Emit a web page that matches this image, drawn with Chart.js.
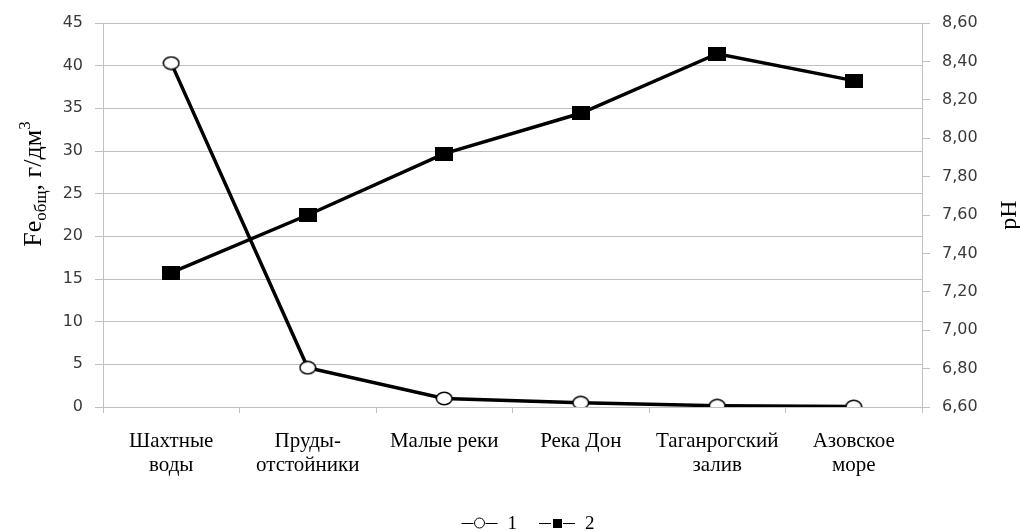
<!DOCTYPE html>
<html lang="ru">
<head>
<meta charset="utf-8">
<title>Fe общ и pH</title>
<script src="https://cdn.jsdelivr.net/npm/chart.js@4.4.1/dist/chart.umd.min.js"></script>
<style>
  html, body { margin: 0; padding: 0; background: #fff; }
  canvas { display: block; }
</style>
</head>
<body>
<canvas id="chart" width="1020" height="531"></canvas>
<script>
// categories (multi-line labels)
const categories = [
    ['Шахтные', 'воды'],
    ['Пруды-', 'отстойники'],
    ['Малые реки'],
    ['Река Дон'],
    ['Таганрогский', 'залив'],
    ['Азовское', 'море']
];
const seriesLabels = ['1', '2'];
// series 1: Fe общ, г/дм3 (left axis)
const feValues = [40.3, 4.6, 1.0, 0.5, 0.15, 0.05];
// series 2: pH (right axis)
const phValues = [7.30, 7.60, 7.92, 8.13, 8.44, 8.30];
// axis ranges: min, max, step
const feRange = [0, 45, 5];
const phRange = [6.6, 8.6, 0.2];
const feTitle = ['Fe', 'общ', ', г/дм', '3'];
const phTitle = 'pH';

const GRID = '#c0c0c0';
const TICK = '#3a3a3a';
const SERIF = '"Liberation Serif", "Times New Roman", serif';
const SANS = '"DejaVu Sans", Verdana, sans-serif';

function makeMarker(w, h, draw) {
    const c = document.createElement('canvas');
    c.width = w;
    c.height = h;
    draw(c.getContext('2d'), w, h);
    return c;
}

const circleMarker = makeMarker(18, 15, (g, w, h) => {
    g.beginPath();
    g.ellipse(w / 2, h / 2, w / 2 - 1.2, h / 2 - 1.2, 0, 0, Math.PI * 2);
    g.fillStyle = '#fff';
    g.fill();
    g.lineWidth = 1.5;
    g.strokeStyle = '#000';
    g.stroke();
});
const squareMarker = makeMarker(18, 14, (g, w, h) => {
    g.fillStyle = '#000';
    g.fillRect(0, 0, w, h);
});

// axis titles and the legend under the chart
const extras = {
    id: 'extras',
    afterDraw(chart) {
        const { ctx, chartArea: a } = chart;
        const midY = (a.top + a.bottom) / 2;

        // left title with subscript / superscript
        ctx.save();
        const big = '26px ' + SERIF, small = '17px ' + SERIF;
        const parts = [
            { t: feTitle[0], f: big, dy: 0 },
            { t: feTitle[1], f: small, dy: 5 },
            { t: feTitle[2], f: big, dy: 0 },
            { t: feTitle[3], f: small, dy: -11 }
        ];
        let total = 0;
        parts.forEach(p => { ctx.font = p.f; p.w = ctx.measureText(p.t).width; total += p.w; });
        ctx.translate(41, midY - 31);
        ctx.rotate(-Math.PI / 2);
        ctx.fillStyle = '#000';
        ctx.textBaseline = 'alphabetic';
        ctx.textAlign = 'left';
        let x = -total / 2;
        parts.forEach(p => { ctx.font = p.f; ctx.fillText(p.t, x, p.dy); x += p.w; });
        ctx.restore();

        // right title
        ctx.save();
        ctx.translate(1016, midY);
        ctx.rotate(-Math.PI / 2);
        ctx.font = '24px ' + SERIF;
        ctx.fillStyle = '#000';
        ctx.textAlign = 'center';
        ctx.textBaseline = 'alphabetic';
        ctx.fillText(phTitle, 0, 0);
        ctx.restore();

        // legend: –○– 1   –■– 2
        ctx.save();
        ctx.font = '19px ' + SERIF;
        const ly = 523;
        const itemW = chart.data.datasets.map(ds => 36 + 10 + ctx.measureText(ds.label).width);
        const gap = 22;
        let lx = 528 - (itemW.reduce((s, w) => s + w, 0) + gap * (itemW.length - 1)) / 2;
        chart.data.datasets.forEach((ds, i) => {
            ctx.strokeStyle = '#000';
            ctx.lineWidth = 1;
            ctx.beginPath();
            ctx.moveTo(lx, ly + 0.5);
            ctx.lineTo(lx + 12, ly + 0.5);
            ctx.moveTo(lx + 24, ly + 0.5);
            ctx.lineTo(lx + 36, ly + 0.5);
            ctx.stroke();
            if (i === 0) {
                ctx.beginPath();
                ctx.arc(lx + 18, ly, 5, 0, Math.PI * 2);
                ctx.fillStyle = '#fff';
                ctx.fill();
                ctx.stroke();
            } else {
                ctx.fillStyle = '#000';
                ctx.fillRect(lx + 14, ly - 4, 9, 9);
            }
            ctx.fillStyle = '#000';
            ctx.textBaseline = 'alphabetic';
            ctx.fillText(ds.label, lx + 46, ly + 6);
            lx += itemW[i] + gap;
        });
        ctx.restore();
    }
};

new Chart(document.getElementById('chart'), {
    type: 'line',
    data: {
        labels: categories,
        datasets: [
            {
                label: seriesLabels[0],
                data: feValues,
                yAxisID: 'y',
                borderColor: '#000',
                borderWidth: 3.5,
                pointStyle: circleMarker,
                pointRadius: 8,
                tension: 0
            },
            {
                label: seriesLabels[1],
                data: phValues,
                yAxisID: 'y1',
                borderColor: '#000',
                borderWidth: 3.5,
                pointStyle: squareMarker,
                pointRadius: 8,
                tension: 0
            }
        ]
    },
    options: {
        responsive: false,
        animation: false,
        layout: { padding: { top: 23, left: 0, right: 0, bottom: 0 } },
        plugins: {
            legend: { display: false },
            tooltip: { enabled: false }
        },
        scales: {
            x: {
                offset: true,
                grid: { offset: true, drawOnChartArea: false, drawTicks: true, tickLength: 6, color: GRID },
                border: { color: GRID },
                ticks: {
                    color: '#000',
                    font: { family: SERIF, size: 21, lineHeight: 1.15 },
                    padding: 16,
                    maxRotation: 0,
                    autoSkip: false
                },
                afterFit(s) { s.height = 124; }
            },
            y: {
                position: 'left',
                min: feRange[0],
                max: feRange[1],
                ticks: { stepSize: feRange[2], color: TICK, font: { family: SANS, size: 16 }, padding: 12 },
                grid: { color: GRID, tickLength: 8 },
                border: { color: GRID },
                afterFit(s) { s.width = 103; }
            },
            y1: {
                position: 'right',
                min: phRange[0],
                max: phRange[1],
                ticks: {
                    stepSize: phRange[2],
                    color: TICK,
                    font: { family: SANS, size: 16 },
                    padding: 12,
                    callback: v => v.toFixed(2).replace('.', ',')
                },
                grid: { drawOnChartArea: false, color: GRID, tickLength: 8 },
                border: { color: GRID },
                afterFit(s) { s.width = 98; }
            }
        }
    },
    plugins: [extras]
});
</script>
</body>
</html>
